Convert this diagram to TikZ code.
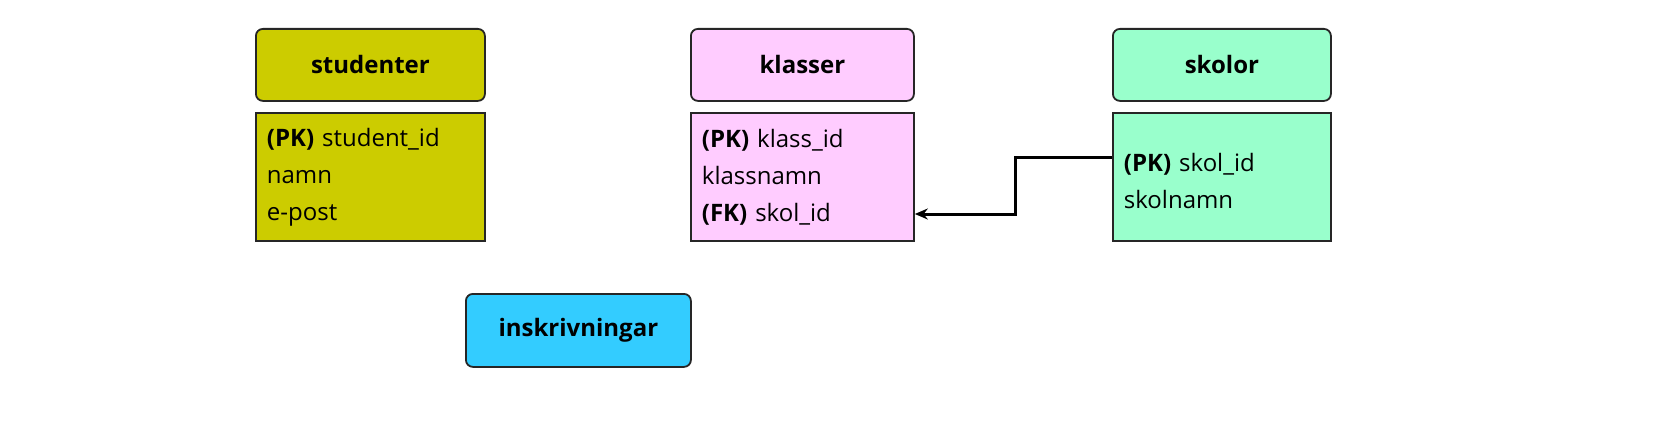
\documentclass[tikz,border=0pt]{standalone}
\usepackage{fontspec}
\setmainfont{Open Sans}
\usetikzlibrary{arrows.meta,positioning}
\definecolor{olive}{HTML}{CCCC00}
\definecolor{rosa}{HTML}{FFCCFF}
\definecolor{mint}{HTML}{99FFCC}
\definecolor{himmel}{HTML}{33CCFF}
\tikzset{
  head/.style={draw=black!85,line width=1.8pt,rounded corners=7pt,anchor=north west,
    minimum height=72pt,font=\fontsize{24}{30}\selectfont\bfseries},
  body/.style={draw=black!85,line width=1.8pt,anchor=north west,minimum height=128pt,
    align=left,text width=#1,inner sep=11pt,font=\fontsize{24}{37}\selectfont},
}
\begin{document}
\begin{tikzpicture}[x=1pt,y=-1pt]
  \useasboundingbox (0,0) rectangle (1666,428);

  \node[head,fill=olive,minimum width=229pt] (studenter) at (255,28) {studenter};
  \node[body=207pt,fill=olive] (sbody) at (255,112) {\textbf{(PK)} student\_id\\namn\\e-post};

  \node[head,fill=rosa,minimum width=223pt] (klasser) at (690,28) {klasser};
  \node[body=201pt,fill=rosa] (kbody) at (690,112) {\textbf{(PK)} klass\_id\\klassnamn\\\textbf{(FK)} skol\_id};

  \node[head,fill=mint,minimum width=218pt] (skolor) at (1112,28) {skolor};
  \node[body=196pt,fill=mint,text depth=30pt] (skbody) at (1112,112) {\textbf{(PK)} skol\_id\\skolnamn};

  \node[head,fill=himmel,minimum width=225pt,minimum height=73pt] (inskrivningar) at (465,293) {inskrivningar};

  \coordinate (fk) at (kbody.east |- 0,214);
  \coordinate (pk) at (skbody.west |- 0,157);
  \draw[line width=3pt,-{Stealth[length=13pt,width=11pt]}]
    (pk) -- (1015,157) -- (1015,214) -- (fk);
\end{tikzpicture}
\end{document}
